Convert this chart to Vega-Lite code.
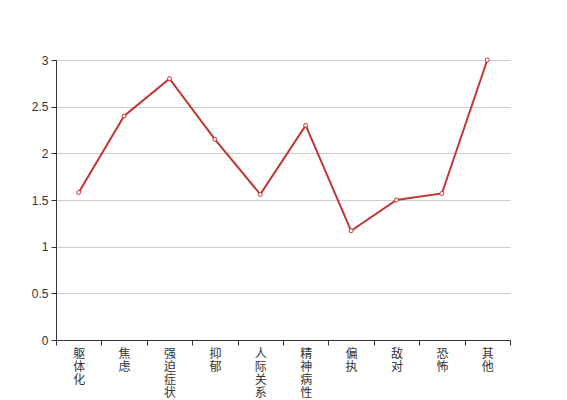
{
  "$schema": "https://vega.github.io/schema/vega-lite/v6.json",
  "width": 454,
  "height": 280,
  "autosize": "none",
  "padding": {"left": 56, "top": 60, "right": 57, "bottom": 60},
  "background": "white",
  "config": {"view": {"stroke": null}, "font": "Noto Sans CJK SC"},
  "data": {"values": [
    {"factor": "躯体化", "score": 1.58},
    {"factor": "焦虑", "score": 2.40},
    {"factor": "强迫症状", "score": 2.80},
    {"factor": "抑郁", "score": 2.15},
    {"factor": "人际关系敏感", "score": 1.56},
    {"factor": "精神病性", "score": 2.30},
    {"factor": "偏执", "score": 1.17},
    {"factor": "敌对", "score": 1.50},
    {"factor": "恐怖", "score": 1.57},
    {"factor": "其他", "score": 3.00}
  ]},
  "encoding": {
    "x": {
      "field": "factor", "type": "nominal", "sort": null, "title": null,
      "scale": {"type": "band", "paddingInner": 0, "paddingOuter": 0},
      "axis": {
        "tickBand": "extent", "labelAngle": 0, "labelBaseline": "top",
        "labelExpr": "split(datum.label, '')", "labelLineHeight": 13.3,
        "labelFontSize": 12, "labelColor": "#333", "labelPadding": 3,
        "domainColor": "#333", "tickColor": "#333", "tickSize": 5,
        "grid": false, "labelFont": "Noto Sans CJK SC"
      }
    },
    "y": {
      "field": "score", "type": "quantitative", "title": null,
      "scale": {"domain": [0, 3], "nice": false, "zero": true},
      "axis": {
        "values": [0, 0.5, 1, 1.5, 2, 2.5, 3], "format": "~g",
        "labelFontSize": 12, "labelColor": "#333", "labelPadding": 3,
        "domainColor": "#333", "tickColor": "#333", "tickSize": 5,
        "gridColor": "#ccc", "labelFont": "Liberation Sans"
      }
    }
  },
  "layer": [
    {"mark": {"type": "line", "color": "#c23531", "strokeWidth": 2}},
    {"mark": {"type": "point", "shape": "circle", "filled": true, "fill": "white", "stroke": "#c23531", "strokeWidth": 1, "size": 16, "opacity": 1}}
  ]
}
